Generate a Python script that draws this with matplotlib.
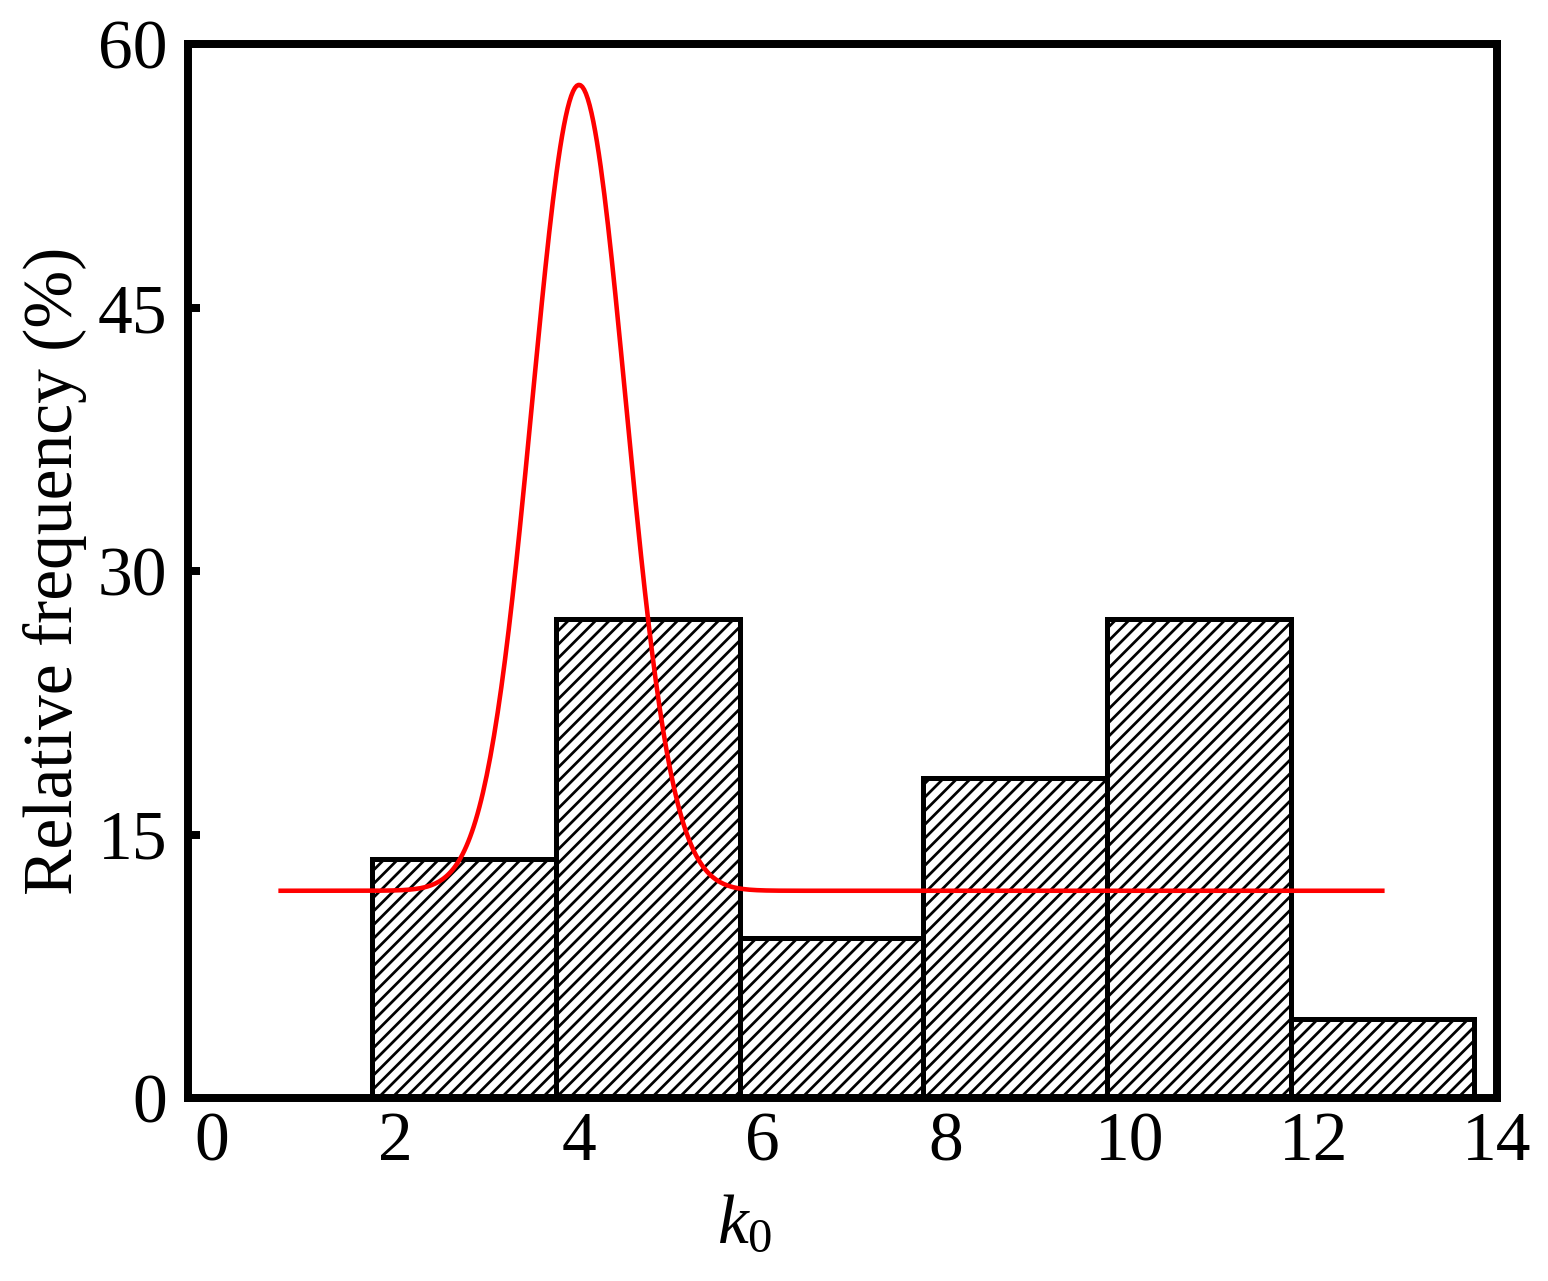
import numpy as np
import matplotlib
matplotlib.use("Agg")
import matplotlib.pyplot as plt

plt.rcParams['font.family'] = ['Liberation Serif', 'DejaVu Serif']
plt.rcParams['mathtext.fontset'] = 'custom'
plt.rcParams['mathtext.rm'] = 'Liberation Serif'
plt.rcParams['mathtext.it'] = 'Liberation Serif:italic'
plt.rcParams['hatch.linewidth'] = 1.2

# histogram of k0 (bins 2 wide)
bin_left = [1.75, 3.75, 5.75, 7.75, 9.75, 11.75]
rel_freq = [13.6, 27.3, 9.1, 18.2, 27.3, 4.5]
bin_width = 2.0

# gaussian fit parameters
fit_y0 = 11.8
fit_peak = 57.7
fit_xc = 4.0
fit_sigma = 0.51
fit_range = (0.75, 12.75)

xticks = [0, 2, 4, 6, 8, 10, 12, 14]
yticks = [0, 15, 30, 45, 60]

dpi = 164
fig = plt.figure(figsize=(1548 / dpi, 1281 / dpi), dpi=dpi)
ax = fig.add_axes([0.1214, 0.1429, 0.8457, 0.8224])

ax.bar(bin_left, rel_freq, width=bin_width, align='edge', color='white',
       edgecolor='black', linewidth=2.2, hatch='////', zorder=2)

xf = np.linspace(fit_range[0], fit_range[1], 600)
yf = fit_y0 + (fit_peak - fit_y0) * np.exp(-(xf - fit_xc) ** 2 / (2 * fit_sigma ** 2))
ax.plot(xf, yf, color='red', lw=2.0, zorder=3)

ax.set_xlim(-0.26, 14.0)
ax.set_ylim(0, 60)
ax.set_xticks(xticks)
ax.set_yticks(yticks)

for s in ax.spines.values():
    s.set_linewidth(3.5)
    s.set_zorder(4)

ax.tick_params(axis='x', length=0, pad=6, labelsize=30.5)
ax.tick_params(axis='y', direction='in', length=5.3, width=3.5, pad=9, labelsize=30.5)

ax.set_xlabel(r'$k_0$', fontsize=30.5)
ax.xaxis.set_label_coords(0.4255, -0.091)
ax.set_ylabel('Relative frequency (%)', fontsize=30.5)
ax.yaxis.set_label_coords(-0.077, 0.5)

fig.savefig('out.png', dpi=dpi)
